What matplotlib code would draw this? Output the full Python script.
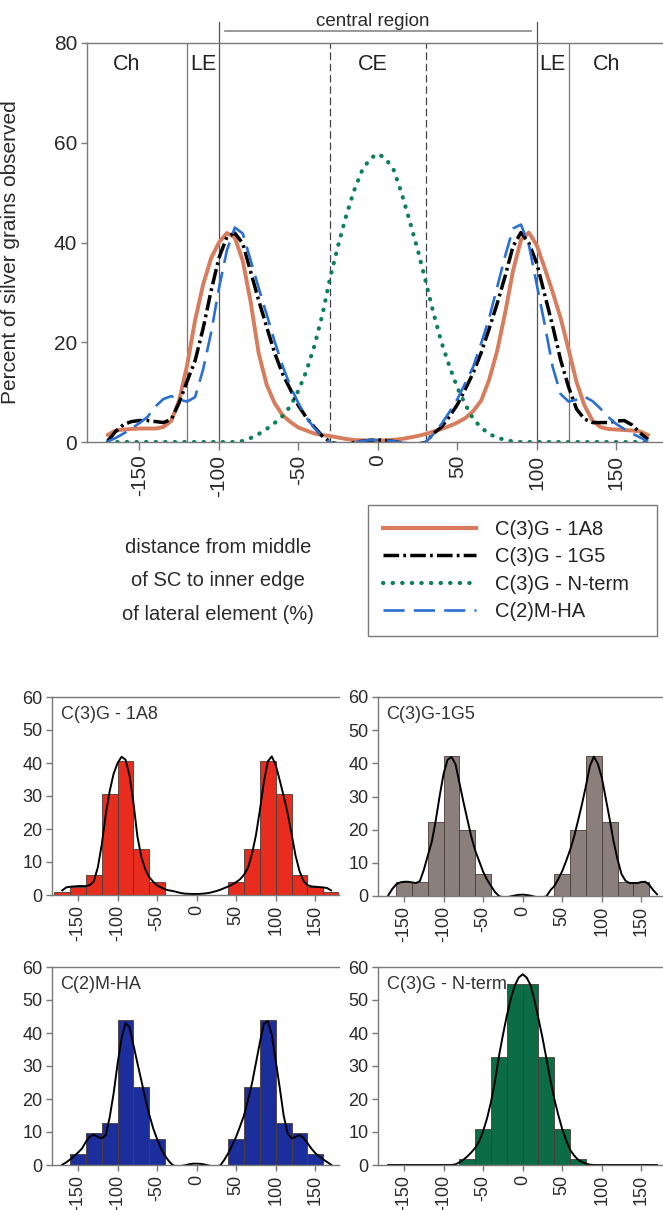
import numpy as np
import matplotlib.pyplot as plt
from matplotlib.lines import Line2D

plt.rcParams['font.family'] = ['Liberation Sans', 'DejaVu Sans']

# =========================
# data
# =========================
# smoothed curves, sampled every 5 % from -170 to 170
pos = np.arange(-170, 171, 5)

c3g_1a8 = [1.4, 2.3, 2.5, 2.6, 2.7, 2.7, 2.7, 3.0, 4.2, 8.4,
           15.4, 24.4, 31.5, 36.8, 40.0, 41.9, 41.0, 36.3, 28.0, 17.8,
           11.5, 7.8, 5.4, 4.0, 2.9, 2.3, 1.7, 1.4, 1.2, 0.9,
           0.6, 0.4, 0.35, 0.3, 0.3, 0.35, 0.45, 0.6, 0.9, 1.2,
           1.6, 2.1, 2.6, 3.2, 3.9, 4.8, 6.2, 8.3, 12.5, 18.2,
           25.8, 34.3, 40.5, 42.0, 39.4, 34.8, 30.0, 24.8, 18.5, 12.0,
           7.3, 4.3, 3.0, 2.6, 2.5, 2.4, 2.3, 2.1, 1.4]

c3g_1g5 = [0.2, 2.1, 3.5, 4.1, 4.3, 4.3, 4.1, 3.9, 4.5, 7.9,
           12.2, 16.3, 22.7, 30.2, 36.9, 41.1, 41.9, 39.8, 34.1, 28.4,
           23.1, 17.9, 13.7, 10.5, 7.3, 4.9, 3.0, 1.2, 0.0, -0.4,
           -0.4, -0.1, 0.15, 0.35, 0.4, 0.3, 0.1, -0.2, -0.4, -0.4,
           -0.1, 1.7, 3.0, 5.1, 7.5, 10.6, 13.9, 17.9, 22.7, 27.7,
           33.2, 39.2, 42.0, 39.9, 35.8, 29.5, 23.2, 16.4, 11.0, 6.6,
           4.6, 3.9, 3.9, 3.9, 4.2, 4.3, 3.4, 1.8, 0.5]

c3g_nterm = [0, 0, 0, 0, 0, 0, 0, 0, 0, 0,
             0, 0, 0, 0, 0, 0, 0, 0.2, 0.8, 1.6,
             2.6, 3.8, 5.2, 7.2, 10.3, 14.2, 19.2, 25.4, 33.0, 39.4,
             45.3, 50.4, 54.4, 56.8, 57.8, 56.8, 54.5, 49.8, 44.3, 38.6,
             32.3, 25.8, 20.0, 15.2, 10.9, 7.5, 4.6, 2.9, 1.6, 0.9,
             0.4, 0.1, 0, 0, 0, 0, 0, 0, 0, 0,
             0, 0, 0, 0, 0, 0, 0, 0, 0]

c2m_ha = [0.1, 0.8, 1.7, 2.7, 3.8, 5.0, 7.1, 8.6, 9.2, 8.5,
          8.1, 9.0, 14.5, 21.8, 30.8, 38.4, 43.0, 41.8, 36.4, 30.9,
          25.6, 20.2, 15.3, 11.1, 7.8, 4.9, 2.8, 1.1, -0.1, -0.4,
          -0.3, -0.1, 0.2, 0.4, 0.4, 0.35, 0.15, -0.15, -0.4, -0.4,
          -0.1, 1.6, 3.6, 6.0, 8.6, 11.8, 15.1, 19.8, 24.8, 31.0,
          37.2, 42.8, 43.6, 39.5, 31.5, 23.5, 15.0, 9.6, 8.1, 8.5,
          9.1, 8.2, 6.7, 5.0, 3.6, 2.6, 1.7, 0.9, 0.1]

# histograms, 20 % bins from -180 to 180
bin_left = np.arange(-180, 180, 20)
hist_1a8 = [1.0, 2.3, 6.2, 30.5, 40.5, 13.8, 3.8, 0, 0, 0,
            0, 3.8, 13.8, 40.5, 30.5, 6.2, 2.3, 1.0]
hist_1g5 = [0, 4.2, 4.2, 22.3, 42.2, 19.8, 6.6, 0, 0, 0,
            0, 6.6, 19.8, 42.2, 22.3, 4.2, 4.2, 0]
hist_ha = [0, 3.2, 9.6, 12.6, 43.9, 23.5, 7.8, 0, 0, 0,
           0, 7.8, 23.5, 43.9, 12.6, 9.6, 3.2, 0]
hist_nterm = [0, 0, 0, 0, 0, 1.9, 10.8, 32.8, 54.7, 54.7,
              32.8, 10.8, 1.9, 0, 0, 0, 0, 0]

# region boundaries
le_outer = [-120, 120]
le_inner = [-100, 100]
ce_edges = [-30, 30]
region_labels = ["Ch", "LE", "CE", "LE", "Ch"]
region_pos = [-158, -110, -3, 110, 144]

x_ticks = [-150, -100, -50, 0, 50, 100, 150]

SPINE = "#7a7a7a"
ORANGE = "#d77d5e"
GREEN = "#0b7f56"
BLUE = "#2b6fd3"
TXT = "#2a2a2a"

W, H = 663, 1210
fig = plt.figure(figsize=(W / 100, H / 100), dpi=100)


def px_box(left, top, right, bottom):
    return [left / W, 1 - bottom / H, (right - left) / W, (bottom - top) / H]


def style_axes(ax, fs):
    ax.spines["right"].set_visible(False)
    for s in ["left", "top", "bottom"]:
        ax.spines[s].set_color(SPINE)
        ax.spines[s].set_linewidth(1.0)
    ax.tick_params(direction="out", color=SPINE, length=4, width=1,
                   labelsize=fs, labelcolor=TXT, pad=3)
    ax.set_xticks(x_ticks)
    ax.set_xticklabels([str(t) for t in x_ticks], rotation=90)


# =========================
# top panel: all four curves
# =========================
ax = fig.add_axes(px_box(87, 43, 664, 442))
ax.set_xlim(-183, 180)
ax.set_ylim(0, 80)
style_axes(ax, 15)
ax.tick_params(axis="x", length=6)
ax.set_yticks([0, 20, 40, 60, 80])

for xv in le_outer:
    ax.plot([xv, xv], [0, 80], color="#777777", lw=0.9)
for xv in le_inner:
    ax.plot([xv, xv], [0, 84.2], color="#555555", lw=0.9, clip_on=False)
for xv in ce_edges:
    ax.plot([xv, xv], [0, 80], color="#444444", lw=0.9, ls=(0, (6, 3)))

ax.plot([-96, 96.5], [82.4, 82.4], color="#888888", lw=1.2, clip_on=False)
ax.text(-3, 84.4, "central region", ha="center", va="center", fontsize=13.5,
        color=TXT)
for lab, xv in zip(region_labels, region_pos):
    ax.text(xv, 75.6, lab, ha="center", va="center", fontsize=15.5,
            color="#222222")

ax.plot(pos, c3g_1a8, color=ORANGE, lw=2.8, solid_capstyle="round")
ax.plot(pos, c3g_nterm, color=GREEN, lw=3.0, ls=(0, (0.1, 2.2)),
        dash_capstyle="round")
ax.plot(pos, c3g_1g5, color="black", lw=2.5, ls=(0, (4.5, 1.2, 0.8, 1.2)))
ax.plot(pos, c2m_ha, color=BLUE, lw=1.9, ls=(0, (8, 3.5)))

ax.set_ylabel("Percent of silver grains observed", fontsize=15, color=TXT)
ax.yaxis.set_label_coords(-0.116, 0.475)

fig.text(218 / W, 1 - 581 / H,
         "distance from middle\nof SC to inner edge\nof lateral element (%)",
         ha="center", va="center", fontsize=14.5, linespacing=1.95,
         color=TXT)

handles = [
    Line2D([], [], color=ORANGE, lw=3.0),
    Line2D([], [], color="black", lw=2.5, ls=(0, (4.5, 1.2, 0.8, 1.2))),
    Line2D([], [], color=GREEN, lw=3.0, ls=(0, (0.1, 2.2)),
           dash_capstyle="round"),
    Line2D([], [], color=BLUE, lw=1.9, ls=(0, (8, 3.5))),
]
labels = ["C(3)G - 1A8", "C(3)G - 1G5", "C(3)G - N-term", "C(2)M-HA"]
leg = fig.legend(handles, labels, loc="center left", mode="expand",
                 bbox_to_anchor=(368 / W, 1 - 635 / H, 289 / W, 129 / H),
                 borderaxespad=0, fontsize=14.5, handlelength=4.6,
                 handletextpad=0.95, labelspacing=0.42, borderpad=0.75,
                 fancybox=False, framealpha=1)
leg.get_frame().set_edgecolor(SPINE)
leg.get_frame().set_linewidth(1.0)
for t in leg.get_texts():
    t.set_color("#222222")

# =========================
# bottom panels: histograms with fitted curves
# =========================
panels = [
    ("C(3)G - 1A8", hist_1a8, c3g_1a8, "#e82d1e", (52, 697, 339, 895)),
    ("C(3)G-1G5", hist_1g5, c3g_1g5, "#8b7f7c", (378, 697, 665, 896)),
    ("C(2)M-HA", hist_ha, c2m_ha, "#1c2e9b", (52, 967, 339, 1165)),
    ("C(3)G - N-term", hist_nterm, c3g_nterm, "#0b6c46", (378, 967, 665, 1165)),
]

for title, hist, curve, colour, box in panels:
    axs = fig.add_axes(px_box(*box))
    axs.set_xlim(-183, 180)
    axs.set_ylim(0, 60)
    style_axes(axs, 13)
    axs.set_yticks(range(0, 61, 10))
    keep = [i for i, v in enumerate(hist) if v > 0]
    axs.bar(bin_left[keep], [hist[i] for i in keep], width=20, align="edge",
            color=colour, edgecolor="#4a3b36", linewidth=0.6)
    axs.plot(pos, curve, color="black", lw=1.4)
    axs.text(0.03, 0.91, title, transform=axs.transAxes, ha="left",
             va="center", fontsize=13, color="#333333")

fig.savefig("out.png", dpi=100)
